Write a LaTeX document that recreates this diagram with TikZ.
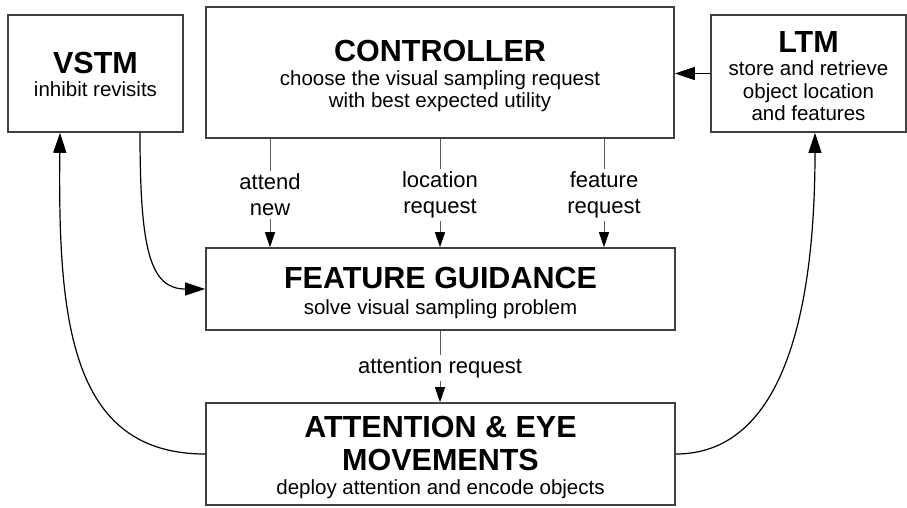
\documentclass[tikz,border=0pt]{standalone}
\usepackage{fontspec}
\setmainfont{Liberation Sans}
\usetikzlibrary{arrows.meta}
\newcommand\titf{\fontsize{30.5}{33}\selectfont\bfseries}
\newcommand\subf{\fontsize{20.5}{22.5}\selectfont}
\newcommand\topstrut[1]{\rule{0pt}{#1}}
\begin{document}
\begin{tikzpicture}[x=1pt,y=-1pt,
  box/.style={draw=black!75, line width=1.6pt, fill=white, align=center, inner sep=0pt, font=\subf},
  lbl/.style={font=\fontsize{22}{26}\selectfont, align=center, inner sep=2.5pt},
  thinline/.style={draw=black!65, line width=0.9pt},
  smallarrow/.style={-{Triangle[length=15pt,width=10pt,color=black]}},
  bigarrow/.style={-{Triangle[length=20pt,width=13pt]}, line width=1.2pt}]
\useasboundingbox[fill=white] (0,0) rectangle (907,507);
% boxes
\node[box, minimum width=175pt, minimum height=117pt] (vstm) at (95.5,73.5)
  {{\titf\topstrut{23pt}VSTM}\\[1pt]inhibit revisits};
\node[box, minimum width=468pt, minimum height=131pt] (ctrl) at (440,72.5)
  {{\titf\topstrut{28.5pt}CONTROLLER}\\[1pt]choose the visual sampling request\\with best expected utility};
\node[box, minimum width=195pt, minimum height=117pt] (ltm) at (808.5,73.5)
  {{\titf\topstrut{26.5pt}LTM}\\[1pt]store and retrieve\\object location\\and features};
\node[box, minimum width=469pt, minimum height=82pt] (fg) at (440.5,289)
  {{\titf\topstrut{29.5pt}FEATURE GUIDANCE}\\[4pt]solve visual sampling problem};
\node[box, minimum width=469pt, minimum height=102pt] (att) at (440.5,454)
  {{\titf\topstrut{28.5pt}ATTENTION \& EYE}\\[10.5pt]{\titf MOVEMENTS}\\[1pt]deploy attention and encode objects};
% labels
\node[lbl] (l1) at (270,195) {attend\\new};
\node[lbl] (l2) at (440,195) {location\\request};
\node[lbl] (l3) at (604,195) {feature\\request};
\node[lbl] (l4) at (440,368) {attention request};
% controller -> feature guidance
\foreach \l in {l1,l2,l3}{
  \draw[thinline] (ctrl.south -| \l) -- (\l);
  \draw[thinline, smallarrow] (\l) -- (fg.north -| \l);
}
% feature guidance -> attention
\draw[thinline] (fg.south -| l4) -- (l4);
\draw[thinline, smallarrow] (l4) -- (att.north -| l4);
% LTM -> controller
\draw[bigarrow] (ltm.west) -- (ctrl.east |- ltm.west);
% VSTM -> feature guidance
\draw[bigarrow] ([xshift=44.5pt]vstm.south) .. controls (140,250) and (150,289) .. (fg.west);
% attention -> VSTM
\draw[bigarrow] (att.west) .. controls (70,454) and (58,320) .. ([xshift=-35.5pt]vstm.south);
% attention -> LTM
\draw[bigarrow] (att.east) .. controls (780,454) and (815,320) .. ([xshift=6.5pt]ltm.south);
\end{tikzpicture}
\end{document}
